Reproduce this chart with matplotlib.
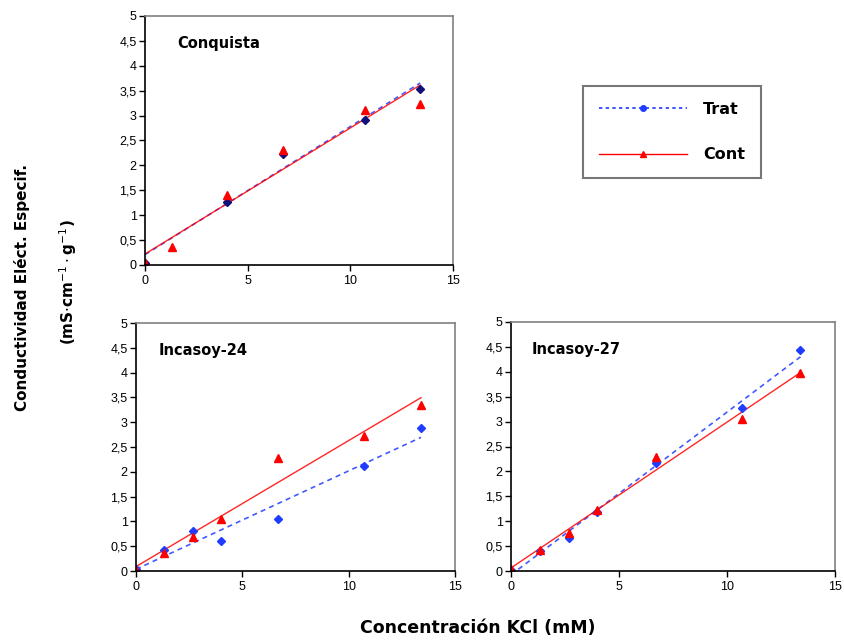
import numpy as np
import matplotlib
matplotlib.use("Agg")
import matplotlib.pyplot as plt
from matplotlib.lines import Line2D
from matplotlib.ticker import FuncFormatter

# concentracion KCl (mM)
x_conq_trat = [0, 4, 6.7, 10.7, 13.4]
x_conq = [0, 1.33, 4, 6.7, 10.7, 13.4]
x_inc = [0, 1.33, 2.67, 4, 6.7, 10.7, 13.4]

# Conquista
conq_trat = [0.05, 1.27, 2.22, 2.91, 3.54]
conq_cont = [0.05, 0.36, 1.40, 2.30, 3.12, 3.24]
# Incasoy-24
i24_trat = [0.05, 0.42, 0.81, 0.61, 1.04, 2.12, 2.89]
i24_cont = [0.02, 0.36, 0.69, 1.05, 2.28, 2.73, 3.35]
# Incasoy-27
i27_trat = [0.02, 0.41, 0.66, 1.19, 2.16, 3.27, 4.43]
i27_cont = [0.05, 0.42, 0.77, 1.22, 2.29, 3.06, 3.98]

W, H = 844, 641
fig = plt.figure(figsize=(W / 100, H / 100), dpi=100)
plt.rcParams['font.family'] = ['Liberation Sans', 'DejaVu Sans']

blue = '#1f3cff'
navy = '#10107a'
red = '#ff0000'


def coma(v, pos):
    s = ('%g' % v).replace('.', ',')
    return s


def panel(rect, xt, trat, xc, cont, titulo, tx, mcol=blue):
    ax = fig.add_axes(rect)
    # lineas de tendencia (minimos cuadrados)
    for x, y, c, ls, lw in [(xt, trat, blue, (0, (3, 2.5)), 1.2),
                            (xc, cont, red, '-', 1.0)]:
        x = np.array(x)
        p = np.polyfit(x, y, 1)
        xx = np.array([x.min(), x.max()])
        ax.plot(xx, np.polyval(p, xx), color=c, ls=ls, lw=lw, alpha=0.85)
    ax.plot(xt, trat, ls='none', marker='D', ms=4.5, color=mcol)
    ax.plot(xc, cont, ls='none', marker='^', ms=6, color=red)
    ax.set_xlim(0, 15)
    ax.set_ylim(0, 5)
    ax.set_xticks([0, 5, 10, 15])
    ax.set_yticks(np.arange(0, 5.01, 0.5))
    ax.yaxis.set_major_formatter(FuncFormatter(coma))
    ax.tick_params(direction='out', length=4, width=1, labelsize=9, pad=3,
                   colors='black')
    ax.tick_params(axis='y', pad=2)
    for s in ['top', 'right']:
        ax.spines[s].set_color('#808080')
        ax.spines[s].set_linewidth(1.2)
    for s in ['left', 'bottom']:
        ax.spines[s].set_linewidth(1.2)
    ax.text(tx, 0.89, titulo, transform=ax.transAxes, fontsize=10.5,
            fontweight='bold', family='DejaVu Sans', va='center')
    ax.patch.set_alpha(0)
    return ax


panel([145 / W, 1 - 265 / H, 308 / W, 249 / H], x_conq_trat, conq_trat,
      x_conq, conq_cont, 'Conquista', 0.105, mcol=navy)
panel([136 / W, 1 - 571 / H, 319 / W, 248 / H], x_inc, i24_trat,
      x_inc, i24_cont, 'Incasoy-24', 0.07)
panel([511 / W, 1 - 571 / H, 324 / W, 249 / H], x_inc, i27_trat,
      x_inc, i27_cont, 'Incasoy-27', 0.065)

fig.text(22 / W, 1 - 287 / H, 'Conductividad Eléct. Especif.', rotation=90,
         ha='center', va='center', fontsize=11, fontweight='bold',
         family='DejaVu Sans')
fig.text(68 / W, 1 - 282 / H, r'(mS$\cdot$cm$^{-1}\cdot$g$^{-1}$)', rotation=90,
         ha='center', va='center', fontsize=11, fontweight='bold',
         family='DejaVu Sans')
fig.text(478 / W, 1 - 628 / H, 'Concentración KCl (mM)', ha='center',
         va='center', fontsize=12.5, fontweight='bold', family='DejaVu Sans')

handles = [Line2D([], [], color=blue, ls=(0, (2, 2)), lw=1.2, marker='o', ms=4),
           Line2D([], [], color=red, ls='-', lw=1.0, marker='^', ms=5)]
leg = fig.legend(handles, ['Trat', 'Cont'], loc='upper left',
                 bbox_to_anchor=(583 / W, 1 - 86 / H), frameon=True,
                 fancybox=False, handlelength=5.5, handletextpad=1.0,
                 labelspacing=1.9, borderpad=1.0, borderaxespad=0,
                 prop={'family': 'DejaVu Sans', 'weight': 'bold', 'size': 11.5})
leg.get_frame().set_edgecolor('#555555')
leg.get_frame().set_linewidth(1.5)

fig.savefig('out.png', dpi=100)
